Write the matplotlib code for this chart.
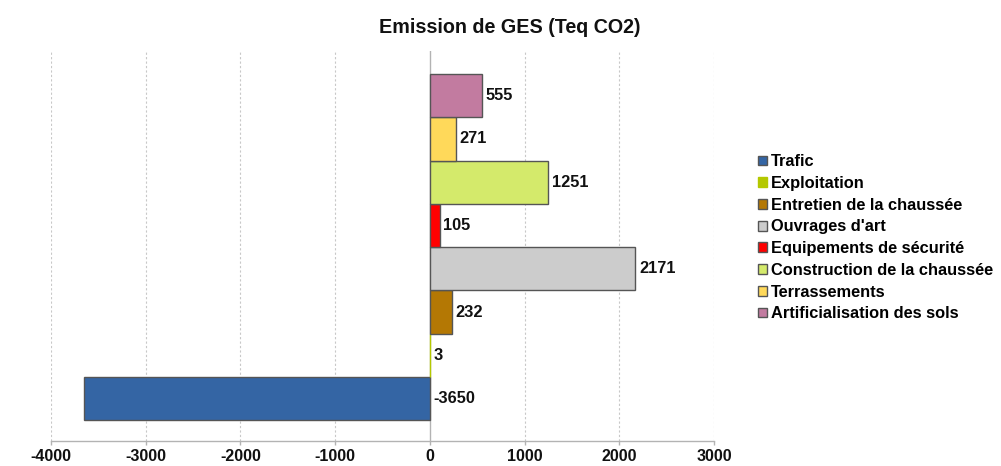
import matplotlib
matplotlib.use("Agg")
import matplotlib.pyplot as plt
from matplotlib.patches import Patch

plt.rcParams['font.family'] = ['Liberation Sans', 'DejaVu Sans']
plt.rcParams['font.weight'] = 'bold'

# Series (bottom to top in the bar group)
series = [
    "Trafic",
    "Exploitation",
    "Entretien de la chaussée",
    "Ouvrages d'art",
    "Equipements de sécurité",
    "Construction de la chaussée",
    "Terrassements",
    "Artificialisation des sols",
]
values = [-3650, 3, 232, 2171, 105, 1251, 271, 555]
colors = ["#3465a4", "#b4c800", "#b47804", "#cccccc", "#ff0000",
          "#d4ea6b", "#ffd95a", "#c27ba0"]
edges = ["#555555", "#b4c800", "#555555", "#555555", "#555555",
         "#555555", "#555555", "#555555"]
xticks = [-4000, -3000, -2000, -1000, 0, 1000, 2000, 3000]
title = "Emission de GES (Teq CO2)"

fig = plt.figure(figsize=(10.01, 4.66), dpi=100)
ax = fig.add_axes([0.051, 0.0536, 0.6623, 0.837])

pos = list(range(len(series)))
ax.barh(pos, values, height=1.0, color=colors, edgecolor=edges, linewidth=1.0, zorder=3)

for p, v in zip(pos, values):
    ax.annotate(f"{v}", xy=(max(v, 0), p), xytext=(2.5, 0), textcoords="offset points",
                ha="left", va="center", fontsize=11.8, fontweight="bold", color="#111111",
                zorder=4)

ax.set_xlim(-4000, 3000)
ax.set_ylim(-0.98, 8.03)
ax.set_xticks(xticks)
ax.set_xticklabels([str(t) for t in xticks], fontsize=11.5, fontweight="bold")
ax.set_yticks([])
ax.tick_params(axis="x", length=3, width=1, color="#b3b3b3", pad=2.5, labelcolor="#111111")

for s in ("top", "right", "left"):
    ax.spines[s].set_visible(False)
ax.spines["bottom"].set_color("#b3b3b3")
ax.spines["bottom"].set_linewidth(1)

for t in xticks:
    if t == 0:
        ax.axvline(t, color="#b3b3b3", linewidth=1, zorder=1)
    else:
        ax.axvline(t, color="#c8c8c8", linewidth=0.8, linestyle=(0, (2, 2)), zorder=1)

fig.text(0.509, 0.942, title, ha="center", va="center", fontsize=14.2,
         fontweight="bold", color="#111111")

handles = [Patch(facecolor=c, edgecolor=e, linewidth=1.0) for c, e in zip(colors, edges)]
fig.legend(handles, series, loc="upper left", bbox_to_anchor=(0.757, 0.669),
           frameon=False, fontsize=11.8, handlelength=0.55, handleheight=0.55,
           handletextpad=0.25, labelspacing=0.41, borderaxespad=0, borderpad=0)

fig.savefig("out.png", dpi=100)
